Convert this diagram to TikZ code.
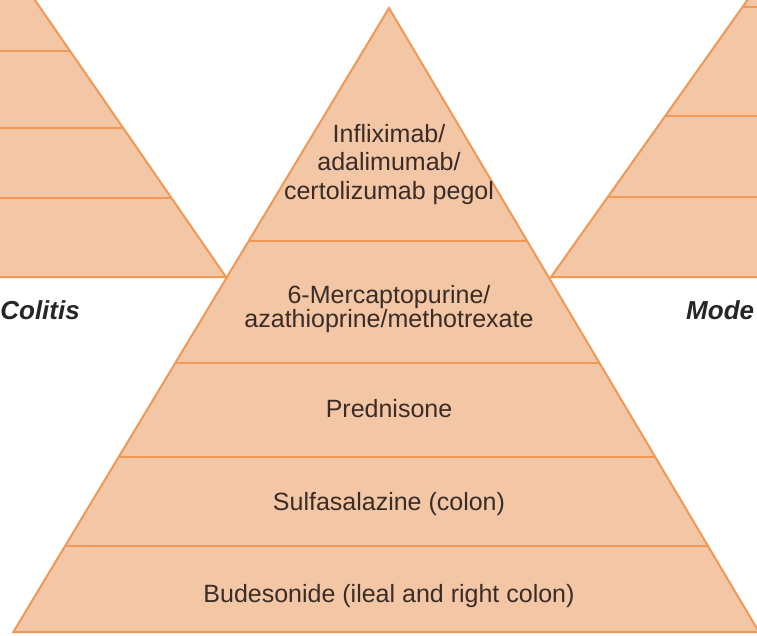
\documentclass[tikz,border=0pt]{standalone}
\usepackage{fontspec}
\setmainfont{Liberation Sans}
\usetikzlibrary{calc}

\definecolor{tierfill}{RGB}{243,198,166}
\definecolor{tierline}{RGB}{240,152,86}
\definecolor{tiertext}{RGB}{58,44,38}

\tikzset{
  tier/.style={fill=tierfill,draw=tierline,line width=2pt,line join=miter},
  tierrule/.style={draw=tierline,line width=2pt},
  tierlabel/.style={text=tiertext,font=\fontsize{25}{28.4}\selectfont,align=center,inner sep=0pt},
  sidelabel/.style={text=black!85,font=\fontsize{26}{30}\selectfont\bfseries\itshape,inner sep=0pt},
}

\begin{document}
\begin{tikzpicture}[x=1pt,y=-1pt]
    \useasboundingbox (0,0) rectangle (757,635);
    \fill[white] (0,0) rectangle (757,635);
    \clip (0,0) rectangle (757,635);

    % Left pyramid (cut off)
    \draw[tier] (-5,-5) -- (31.4,-5) -- (226,277) -- (-5,277) -- cycle;
    \foreach \y/\x in {51/70, 128/123, 198/172}
        \draw[tierrule] (-5,\y) -- (\x,\y);

    % Right pyramid (cut off)
    \draw[tier] (751,-5) -- (765,-5) -- (765,277) -- (551,277) -- cycle;
    \foreach \y/\x in {7/743, 116/665, 197/608}
        \draw[tierrule] (\x,\y) -- (765,\y);

    % Centre pyramid with its five tiers
    \coordinate (apex) at (389,8);
    \coordinate (bl) at (13.3,632);
    \coordinate (br) at (759,632);
    \fill[tierfill] (apex) -- (bl) -- (br) -- cycle;
    \foreach \t in {0.3734, 0.5689, 0.7196, 0.8622}
        \draw[tierrule] ($(apex)!\t!(bl)$) -- ($(apex)!\t!(br)$);
    \draw[tier,fill=none] (apex) -- (bl) -- (br) -- cycle;

    % Tier labels
    \node[tierlabel] (biologic) at (389,164.5) {Infliximab/\\adalimumab/\\certolizumab pegol};
    \node[tierlabel,font=\fontsize{25}{23}\selectfont] (immuno) at (389,309) {6-Mercaptopurine/\\azathioprine/methotrexate};
    \node[tierlabel,anchor=base] (steroid) at (389,417) {Prednisone};
    \node[tierlabel,anchor=base] (sulfa) at (389,510) {Sulfasalazine (colon)};
    \node[tierlabel,anchor=base] (budesonide) at (389,602) {Budesonide (ileal and right colon)};

    % Side captions
    \node[sidelabel,anchor=base east] (colitis) at (80,319) {Colitis};
    \node[sidelabel,anchor=base west] (mode) at (686,319) {Mode};
\end{tikzpicture}
\end{document}
